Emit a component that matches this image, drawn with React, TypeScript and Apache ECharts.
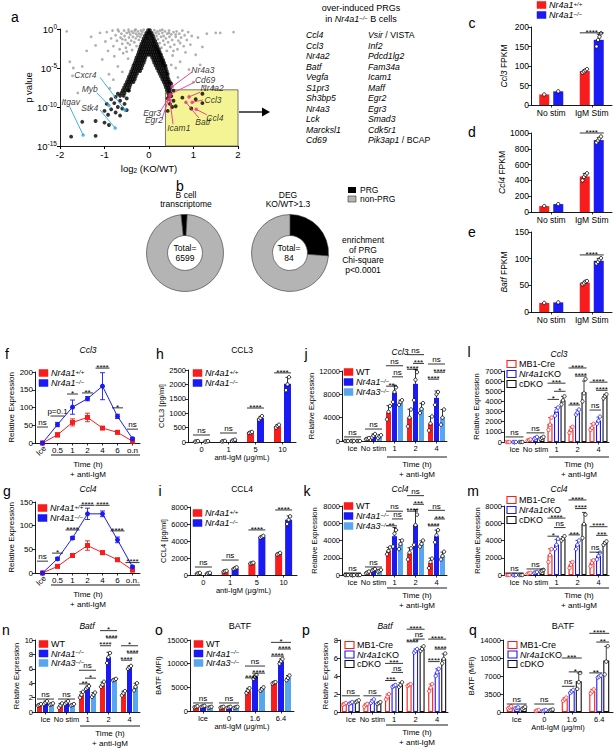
import { useEffect, useRef } from "react";
import * as echarts from "echarts";

const FONT = "Liberation Sans, Arial, sans-serif";
const RED = "#f81c1c";
const BLUE = "#1a1af5";
const LBLUE = "#58a6f0";
const BLACK = "#111111";
const PINK = "#ec2f8c";
const CYAN = "#2aa8e0";

/* ---------------- a : volcano (x = log2 KO/WT, y = log10 p) ---------------- */
const volcanoGrey: number[][] = [
  [-1.85,-0.3],[-1.78,-4.2],[-1.7,-5.0],[-1.72,-6.0],[-1.6,-8.2],[-1.5,-4.8],[-1.3,-1.0],[-1.2,-2.1],[-1.1,-0.5],[-1.05,-3.9],
  [-0.98,-1.6],[-0.95,-0.4],[-0.92,-2.8],[-0.9,-5.8],[-0.88,-7.6],[-0.85,-1.2],[-0.82,-0.2],[-0.8,-2.2],[-0.78,-3.5],[-0.75,-0.8],
  [-0.72,-1.5],[-0.7,-4.8],[-0.68,-0.3],[-0.66,-2.6],[-0.64,-1.1],[-0.62,-0.6],[-0.6,-1.9],[-0.58,-3.1],[-0.56,-0.2],[-0.55,-0.9],
  [-0.53,-1.4],[-0.52,-2.4],[-0.5,-0.5],[-0.48,-1.8],[-0.47,-3.8],[-0.46,-0.1],[-0.45,-1.1],[-0.43,-2.0],[-0.42,-0.7],[-0.4,-1.5],
  [-0.39,-0.3],[-0.38,-2.7],[-0.36,-1.0],[-0.35,-0.5],[-0.33,-1.7],[-0.32,-0.2],[-0.3,-1.2],[-0.29,-0.6],[-0.28,-2.2],[-0.26,-0.9],
  [-0.25,-0.3],[-0.23,-1.4],[-0.22,-0.6],[-0.2,-1.0],[-0.18,-0.2],[-0.17,-0.7],[-0.15,-0.4],[-0.12,-0.1],[0.12,-0.15],[0.15,-0.5],
  [0.17,-0.9],[0.19,-0.3],[0.2,-1.3],[0.22,-0.6],[0.24,-1.8],[0.25,-0.2],[0.27,-1.0],[0.28,-2.4],[0.3,-0.5],[0.32,-1.5],
  [0.33,-0.9],[0.35,-2.0],[0.36,-0.3],[0.38,-1.2],[0.4,-2.8],[0.41,-0.6],[0.43,-1.7],[0.45,-0.2],[0.46,-1.0],[0.48,-2.3],
  [0.5,-0.7],[0.52,-1.4],[0.53,-3.4],[0.55,-0.4],[0.57,-2.0],[0.6,-1.0],[0.62,-0.3],[0.64,-2.6],[0.66,-1.5],[0.68,-0.6],
  [0.7,-4.2],[0.72,-1.1],[0.75,-0.2],[0.78,-2.2],[0.8,-0.8],[0.82,-3.0],[0.85,-1.4],[0.88,-0.4],[0.9,-5.2],[0.93,-2.0],
  [0.96,-0.9],[1.0,-6.8],[1.05,-3.3],[1.1,-1.1],[1.15,-4.6],[1.2,-2.3],[1.25,-7.3],[1.3,-0.6],[1.45,-7.5],[1.5,-0.5],
  [1.6,-0.5],[1.9,-0.4],[0.6,-5.0],[0.65,-6.2],[-0.6,-5.5],[-0.35,-4.5],[0.5,-4.6],[-0.8,-6.5],[-1.4,-2.8],
  [-0.7,-0.1],[-0.6,-1.3],[-0.45,-0.4],[-0.3,-0.05],[0.3,-0.1],[0.45,-0.5],[0.6,-0.7],[0.7,-1.8],[-0.5,-2.9],[0.55,-2.8]
];
/* dense V of black points: [log10 p, log2 FC values along that row] */
const volcanoBlackRows: [number, number[]][] = [
  [-0.15, [-0.02, 0.02]],
  [-0.5, [-0.06, -0.02, 0.02, 0.06]],
  [-0.85, [-0.09, -0.05, 0, 0.05, 0.09]],
  [-1.2, [-0.12, -0.07, -0.03, 0.02, 0.07, 0.11]],
  [-1.55, [-0.14, -0.1, -0.05, 0, 0.05, 0.1, 0.14]],
  [-1.9, [-0.17, -0.12, -0.07, -0.02, 0.03, 0.08, 0.12, 0.17]],
  [-2.25, [-0.19, -0.14, -0.09, -0.04, 0.01, 0.06, 0.11, 0.15, 0.19]],
  [-2.6, [-0.21, -0.16, -0.11, -0.06, -0.01, 0.04, 0.09, 0.14, 0.18, 0.22]],
  [-2.95, [-0.23, -0.18, -0.13, -0.08, -0.03, 0.02, 0.07, 0.12, 0.17, 0.21, 0.24]],
  [-3.3, [-0.25, -0.2, -0.15, -0.1, -0.05, 0, 0.05, 0.1, 0.15, 0.2, 0.24, 0.27]],
  [-3.65, [-0.28, -0.23, -0.18, -0.13, -0.08, 0.07, 0.12, 0.17, 0.22, 0.26, 0.29]],
  [-4.0, [-0.3, -0.25, -0.2, -0.15, -0.1, 0.1, 0.15, 0.2, 0.25, 0.29, 0.32]],
  [-4.35, [-0.32, -0.27, -0.22, -0.17, -0.12, 0.12, 0.17, 0.22, 0.27, 0.31, 0.34]],
  [-4.7, [-0.35, -0.3, -0.25, -0.2, -0.15, 0.15, 0.2, 0.25, 0.3, 0.34, 0.37]],
  [-5.05, [-0.37, -0.32, -0.27, -0.22, -0.17, 0.18, 0.23, 0.28, 0.33, 0.38]],
  [-5.4, [-0.4, -0.35, -0.3, -0.25, -0.2, 0.21, 0.26, 0.31, 0.36, 0.4]],
  [-5.75, [-0.42, -0.37, -0.32, -0.27, 0.24, 0.29, 0.34, 0.39, 0.42]],
  [-6.1, [-0.45, -0.4, -0.35, -0.3, 0.27, 0.32, 0.37, 0.42]],
  [-6.45, [-0.47, -0.42, -0.37, -0.32, 0.3, 0.35, 0.4, 0.44]],
  [-6.8, [-0.5, -0.45, -0.4, -0.35, 0.33, 0.38, 0.43, 0.47]],
  [-7.15, [-0.53, -0.48, -0.42, 0.36, 0.41, 0.46]],
  [-7.5, [-0.56, -0.5, -0.44, 0.38, 0.43, 0.48]],
  [-7.85, [-0.59, -0.53, -0.47, 0.41, 0.46]],
  [-8.2, [-0.62, -0.55, 0.43, 0.48]],
  [-8.55, [-0.65, -0.57, 0.45]],
];
/* scattered black outliers */
const volcanoBlackOut: number[][] = [
  [-0.7,-8.3],[-0.75,-8.7],[-0.5,-8.9],[-0.85,-9.0],[-0.65,-9.2],[-0.78,-9.5],[-0.55,-9.6],[-0.95,-9.6],[-0.7,-10.0],[-0.6,-10.2],
  [-0.85,-10.3],[-0.5,-10.4],[-1.0,-10.5],[-0.75,-10.7],[-0.92,-11.0],[-0.65,-11.1],[-1.2,-11.8],[-1.5,-11.9],[-1.2,-13.7],[-1.75,-13.8],
  [-0.9,-12.3],[-1.0,-12.0],[0.5,-8.6],[0.42,-8.9],[0.55,-9.2],[0.47,-9.6],[0.52,-10.0],[0.6,-9.9],[0.75,-8.8],[1.05,-9.0],
  [1.2,-9.5],[0.95,-10.2],[0.42,-10.5],[1.2,-8.3],[0.55,-7.9],[0.5,-7.0],[-0.45,-7.9]
];
const volcanoPinkGenes = ["Nr4a3", "Cd69", "Nr4a2", "Ccl3", "Ccl4", "Batf", "Icam1", "Egr3", "Egr2"];
const volcanoPinkPts = [[0.52,-7.4],[0.47,-8.4],[0.9,-8.7],[0.97,-9.4],[1.06,-10.3],[0.83,-9.4],[0.47,-9.1],[0.47,-8.6],[0.44,-9.0]];
const volcanoBlueGenes = ["Cxcr4", "Myb", "Stk4", "Itgav"];
const volcanoBluePts = [[-0.54,-10.4],[-0.9,-9.8],[-0.76,-12.7],[-1.48,-13.6]];
const prgBox = [0.37, -7.8, 2, -15];

/* over-induced PRG list */
const prgListCol1 = ["Ccl4", "Ccl3", "Nr4a2", "Batf", "Vegfa", "S1pr3", "Sh3bp5", "Nr4a3", "Lck", "Marcksl1", "Cd69"];
const prgListCol2 = ["{i|Vsir} / VISTA", "Inf2", "Pdcd1lg2", "Fam34a", "Icam1", "Maff", "Egr2", "Egr3", "Smad3", "Cdk5r1", "{i|Pik3ap1} / BCAP"];

/* ---------------- b : donuts ---------------- */
const bcellPRG = 170;
const bcellNonPRG = 6429;
const degPRG = 22;
const degNonPRG = 62;

/* ---------------- c, d, e : FPKM ---------------- */
const fpkmCats = ["No stim", "IgM Stim"];
const ccl3FpkmWT = [27, 87];
const ccl3FpkmKO = [35, 167];
const ccl3FpkmWTReps = [[27], [83, 86, 89, 92]];
const ccl3FpkmKOReps = [[35], [150, 167, 175, 184]];
const ccl4FpkmWT = [75, 450];
const ccl4FpkmKO = [100, 910];
const ccl4FpkmWTReps = [[75], [400, 445, 470, 490]];
const ccl4FpkmKOReps = [[100], [880, 905, 930, 955]];
const batfFpkmWT = [17, 55];
const batfFpkmKO = [18, 96];
const batfFpkmWTReps = [[17], [52, 54, 57, 58]];
const batfFpkmKOReps = [[18], [91, 94, 98, 101]];

/* ---------------- f, g : time course ---------------- */
const timeCatsF = ["Ice", "0.5", "1", "2", "4", "6", "o.n"];
const timeCatsG = ["Ice", "0.5", "1", "2", "4", "6", "o.n."];
const ccl3TimeWT = [0, 23, 58, 72, 42, 30, 5];
const ccl3TimeWTErr = [0, 6, 10, 12, 4, 4, 2];
const ccl3TimeKO = [0, 52, 101, 125, 160, 75, 12];
const ccl3TimeKOErr = [0, 6, 20, 6, 38, 6, 3];
const ccl4TimeWT = [0, 14, 37, 58, 43, 28, 6];
const ccl4TimeWTErr = [0, 2, 3, 10, 4, 3, 2];
const ccl4TimeKO = [0, 30, 74, 125, 125, 70, 13];
const ccl4TimeKOErr = [0, 3, 3, 12, 6, 6, 2];

/* ---------------- h, i : protein ---------------- */
const doseCats = ["0", "1", "5", "10"];
const ccl3ProtWT = [20, 30, 330, 550];
const ccl3ProtKO = [20, 60, 830, 2020];
const ccl3ProtWTReps = [[10, 20, 30], [20, 30, 40], [310, 330, 350], [500, 560, 600]];
const ccl3ProtKOReps = [[10, 20, 30], [40, 60, 80], [780, 830, 900], [1800, 2000, 2250]];
const ccl4ProtWT = [200, 450, 1400, 2500];
const ccl4ProtKO = [200, 800, 4500, 6500];
const ccl4ProtWTReps = [[150, 200, 250], [400, 450, 500], [1350, 1400, 1450], [2400, 2500, 2600]];
const ccl4ProtKOReps = [[150, 220, 260], [700, 800, 900], [4400, 4500, 4600], [6000, 6500, 6900]];

/* ---------------- j, k, n : WT / Nr4a1-/- / Nr4a3-/- ---------------- */
const stimCats = ["Ice", "No stim", "1", "2", "4"];
const ccl3WT = [50, 400, 4900, 4000, 3000];
const ccl3Nr4a1 = [50, 900, 8300, 9800, 7400];
const ccl3Nr4a3 = [50, 800, 6600, 5600, 4100];
const ccl3WTReps = [[0, 0, 0], [300, 400, 500], [3700, 5000, 6000], [2500, 4000, 5400], [1800, 3000, 4200]];
const ccl3Nr4a1Reps = [[0, 0, 0], [600, 900, 1200], [6700, 8400, 9200], [7000, 10500, 11800], [6200, 8000, 8400]];
const ccl3Nr4a3Reps = [[0, 0, 0], [500, 800, 1000], [6200, 6700, 7000], [4800, 5500, 6500], [2800, 4000, 5400]];
const ccl4WT = [50, 300, 2800, 2500, 1400];
const ccl4Nr4a1 = [50, 600, 4500, 5800, 4500];
const ccl4Nr4a3 = [50, 500, 3600, 3600, 2200];
const ccl4WTReps = [[0, 0, 0], [200, 300, 400], [2400, 2800, 3200], [1800, 2600, 3100], [800, 1500, 1900]];
const ccl4Nr4a1Reps = [[0, 0, 0], [500, 600, 700], [3300, 4800, 5200], [3500, 5800, 7000], [3800, 4600, 5200]];
const ccl4Nr4a3Reps = [[0, 0, 0], [400, 500, 600], [3000, 3600, 4000], [3300, 3600, 4000], [1800, 2200, 2700]];
const batfWT = [1.0, 0.9, 2.4, 3.8, 2.6];
const batfNr4a1 = [1.3, 1.3, 3.4, 7.6, 6.2];
const batfNr4a3 = [1.1, 1.0, 2.4, 4.5, 3.5];
const batfWTReps = [[0.9, 1.0, 1.1], [0.6, 0.9, 1.2], [2.0, 2.4, 2.8], [3.5, 3.8, 4.2], [2.3, 2.6, 2.9]];
const batfNr4a1Reps = [[1.1, 1.3, 1.5], [1.1, 1.3, 1.5], [3.2, 3.4, 3.6], [6.8, 7.6, 8.2], [6.0, 6.2, 6.4]];
const batfNr4a3Reps = [[1.0, 1.1, 1.2], [0.9, 1.0, 1.1], [2.1, 2.4, 2.7], [4.4, 4.5, 4.6], [3.0, 3.5, 4.0]];

/* ---------------- o : BATF protein, WT / Nr4a1 / Nr4a3 ---------------- */
const batfDoseCats = ["Ice", "0", "1.6", "6.4"];
const batfMfiWT = [900, 800, 4300, 6000];
const batfMfiNr4a1 = [1000, 800, 7200, 10500];
const batfMfiNr4a3 = [800, 800, 4600, 7000];
const batfMfiWTReps = [[800, 900, 1000], [700, 800, 900], [3800, 4300, 4800], [5800, 6000, 6100]];
const batfMfiNr4a1Reps = [[900, 1000, 1100], [700, 800, 900], [6800, 7200, 7600], [10000, 10500, 11000]];
const batfMfiNr4a3Reps = [[700, 800, 900], [700, 800, 900], [4300, 4600, 5000], [6500, 7000, 7500]];

/* ---------------- l, m, p, q : MB1-Cre / Nr4a1cKO / cDKO ---------------- */
const ccl3Mb1 = [50, 200, 1800, 1200, 1500];
const ccl3CKO = [50, 400, 3000, 2900, 2100];
const ccl3DKO = [50, 400, 4100, 4900, 4500];
const ccl3Mb1Reps = [[0, 0, 0], [150, 200, 250], [1200, 1700, 2400], [900, 1200, 1500], [1200, 1400, 1800]];
const ccl3CKOReps = [[0, 0, 0], [300, 400, 500], [2600, 3100, 3400], [2700, 2900, 3200], [1800, 2100, 2500]];
const ccl3DKOReps = [[0, 0, 0], [300, 400, 500], [3700, 4100, 4500], [4000, 4800, 6200], [4300, 4500, 4700]];
const ccl4Mb1 = [50, 200, 2300, 1200, 1400];
const ccl4CKO = [50, 300, 3500, 3500, 2200];
const ccl4DKO = [50, 500, 4200, 5900, 3700];
const ccl4Mb1Reps = [[0, 0, 0], [150, 200, 250], [1500, 2300, 3000], [800, 1200, 1500], [1000, 1400, 1700]];
const ccl4CKOReps = [[0, 0, 0], [250, 300, 350], [3000, 3500, 4200], [3000, 3500, 4000], [1800, 2200, 2600]];
const ccl4DKOReps = [[0, 0, 0], [400, 500, 600], [4000, 4200, 4500], [4300, 5900, 7000], [3500, 3700, 3900]];
const batfMb1 = [0.9, 0.8, 1.7, 3.0, 2.7];
const batfCKO = [1.0, 1.2, 2.9, 6.8, 4.4];
const batfDKO = [1.2, 1.0, 3.0, 7.0, 5.9];
const batfMb1Reps = [[0.8, 0.9, 1.0], [0.6, 0.8, 0.9], [1.4, 1.7, 2.0], [2.9, 3.0, 3.1], [2.3, 2.7, 3.1]];
const batfCKOReps = [[0.9, 1.0, 1.1], [1.0, 1.2, 1.4], [2.8, 2.9, 3.0], [6.6, 6.8, 7.0], [4.0, 4.4, 4.8]];
const batfDKOReps = [[1.1, 1.2, 1.3], [0.9, 1.0, 1.1], [2.8, 3.0, 3.3], [6.8, 7.0, 7.3], [5.4, 5.9, 6.5]];
const batfMfiMb1 = [900, 300, 2500, 4000];
const batfMfiCKO = [800, 300, 4000, 6900];
const batfMfiDKO = [800, 400, 6000, 10000];
const batfMfiMb1Reps = [[700, 900, 1100], [200, 300, 400], [2200, 2500, 2800], [3600, 4000, 4400]];
const batfMfiCKOReps = [[700, 800, 900], [200, 300, 400], [3700, 4000, 4300], [6700, 6900, 7100]];
const batfMfiDKOReps = [[600, 800, 1000], [300, 400, 500], [4500, 5800, 7600], [7300, 9800, 12800]];

/* significance: [catA, groupA, catB, groupB, y, label] */
type Br = [number, number, number, number, number, string];
const sigC: Br[] = [[1, 0, 1, 1, 185, "****"]];
const sigD: Br[] = [[1, 0, 1, 1, 1000, "****"]];
const sigE: Br[] = [[1, 0, 1, 1, 107, "****"]];
const sigH: Br[] = [[0, 0, 0, 1, 243, "ns"], [1, 0, 1, 1, 312, "ns"], [2, 0, 2, 1, 1180, "****"], [3, 0, 3, 1, 2400, "****"]];
const sigI: Br[] = [[0, 0, 0, 1, 940, "ns"], [1, 0, 1, 1, 1760, "ns"], [2, 0, 2, 1, 5300, "****"], [3, 0, 3, 1, 7650, "****"]];
const sigJ: Br[] = [[0, 0, 0, 2, 700, "ns"], [1, 0, 1, 2, 2050, "ns"], [2, 0, 2, 1, 9400, "**"], [2, 1, 2, 2, 11000, "ns"], [2, 0, 2, 2, 12900, "ns"],
  [3, 0, 3, 1, 12300, "****"], [3, 1, 3, 2, 13300, "***"], [3, 0, 3, 2, 14800, "ns"], [4, 0, 4, 1, 10600, "****"], [4, 1, 4, 2, 11800, "****"], [4, 0, 4, 2, 13200, "ns"]];
const sigK: Br[] = [[0, 0, 0, 2, 230, "ns"], [1, 0, 1, 2, 930, "ns"], [2, 0, 2, 1, 5700, "**"], [2, 1, 2, 2, 6500, "ns"], [2, 0, 2, 2, 7400, "ns"],
  [3, 0, 3, 1, 7400, "****"], [3, 1, 3, 2, 8200, "***"], [3, 0, 3, 2, 9200, "ns"], [4, 0, 4, 1, 5700, "****"], [4, 1, 4, 2, 6500, "***"], [4, 0, 4, 2, 7500, "ns"]];
const sigL: Br[] = [[0, 0, 0, 2, 500, "ns"], [1, 0, 1, 2, 900, "ns"], [2, 0, 2, 1, 4200, "*"], [2, 1, 2, 2, 5000, "*"], [2, 0, 2, 2, 5800, "***"],
  [3, 0, 3, 1, 3650, "***"], [3, 1, 3, 2, 6500, "****"], [3, 0, 3, 2, 7300, "****"], [4, 0, 4, 1, 3150, "ns"], [4, 1, 4, 2, 5100, "****"], [4, 0, 4, 2, 5900, "****"]];
const sigM: Br[] = [[0, 0, 0, 2, 230, "ns"], [1, 0, 1, 2, 700, "ns"], [2, 0, 2, 1, 4500, "*"], [2, 1, 2, 2, 5500, "ns"], [2, 0, 2, 2, 6600, "****"],
  [3, 0, 3, 1, 4650, "***"], [3, 1, 3, 2, 7700, "****"], [3, 0, 3, 2, 8700, "****"], [4, 0, 4, 1, 2650, "ns"], [4, 1, 4, 2, 4600, "***"], [4, 0, 4, 2, 5600, "****"]];
const sigN: Br[] = [[0, 0, 0, 2, 1.8, "ns"], [1, 0, 1, 2, 1.8, "ns"], [2, 0, 2, 1, 3.9, "**"], [2, 1, 2, 2, 4.7, "*"], [2, 0, 2, 2, 5.8, "ns"],
  [3, 0, 3, 1, 9.2, "****"], [3, 1, 3, 2, 10.3, "****"], [3, 0, 3, 2, 11.3, "*"], [4, 0, 4, 1, 7.2, "****"], [4, 1, 4, 2, 8.2, "****"], [4, 0, 4, 2, 9.2, "*"]];
const sigO: Br[] = [[0, 0, 0, 2, 1700, "ns"], [1, 0, 1, 2, 1700, "ns"], [2, 0, 2, 1, 7000, "****"], [2, 1, 2, 2, 8000, "****"], [2, 0, 2, 2, 9500, "ns"],
  [3, 0, 3, 1, 11600, "****"], [3, 1, 3, 2, 13100, "****"], [3, 0, 3, 2, 14500, "*"]];
const sigP: Br[] = [[0, 0, 0, 2, 1.8, "ns"], [1, 0, 1, 2, 1.8, "ns"], [2, 0, 2, 1, 3.5, "***"], [2, 1, 2, 2, 4.4, "ns"], [2, 0, 2, 2, 5.4, "***"],
  [3, 0, 3, 1, 7.8, "****"], [3, 1, 3, 2, 8.1, "ns"], [3, 0, 3, 2, 9.2, "****"], [4, 0, 4, 1, 5.6, "****"], [4, 1, 4, 2, 7.0, "****"], [4, 0, 4, 2, 8.1, "****"]];
const sigQ: Br[] = [[0, 0, 0, 2, 1550, "ns"], [1, 0, 1, 2, 1550, "ns"], [2, 0, 2, 1, 5000, "ns"], [2, 1, 2, 2, 7800, "*"], [2, 0, 2, 2, 10500, "***"],
  [3, 0, 3, 1, 7600, "**"], [3, 1, 3, 2, 13600, "**"], [3, 0, 3, 2, 15300, "****"]];
/* time-course notes: [cat, y, label] */
const sigF: [number, number, string][] = [[0, 45, "ns"], [1, 76, "p=0.1"], [2, 138, "*"], [3, 141, "**"], [4, 211, "****"], [5, 99, "*"], [6, 39, "ns"]];
const sigG: [number, number, string][] = [[0, 25, "ns"], [1, 42, "*"], [2, 91, "****"], [3, 143, "****"], [4, 143, "****"], [5, 89, "****"], [6, 22, "****"]];

/* ---------------------------------------------------------------- */
const RICH: any = {
  i: { fontStyle: "italic", fontSize: 9, fontFamily: FONT, color: "#000" },
  s: { fontStyle: "italic", fontSize: 6, fontFamily: FONT, color: "#000", verticalAlign: "top", lineHeight: 8 },
  n: { fontSize: 9, fontFamily: FONT, color: "#000" },
};
function sd(a: number[]) {
  if (a.length < 2) return 0;
  const m = a.reduce((s, v) => s + v, 0) / a.length;
  return Math.sqrt(a.reduce((s, v) => s + (v - m) * (v - m), 0) / (a.length - 1));
}

function buildOption() {
  const grid: any[] = [], xAxis: any[] = [], yAxis: any[] = [], series: any[] = [], graphic: any[] = [];
  const addGrid = (r: number[]) => { grid.push({ left: r[0], top: r[1], width: r[2], height: r[3] }); return grid.length - 1; };
  const AXL = { show: true, lineStyle: { color: "#000", width: 0.9 } };

  const txt = (x: number, y: number, text: string, o: any = {}) => {
    graphic.push({
      type: "text", x, y, rotation: o.rot || 0, silent: true, z: 100,
      style: {
        text, fill: "#000", font: `${o.italic ? "italic " : ""}${o.size || 9}px ${FONT}`,
        textAlign: o.align || "center", textVerticalAlign: o.va || "middle", align: o.align || "center", verticalAlign: o.va || "middle",
        rich: o.rich,
      },
    });
  };
  const line = (x1: number, y1: number, x2: number, y2: number, w = 0.9, c = "#000") =>
    graphic.push({ type: "line", silent: true, shape: { x1, y1, x2, y2 }, style: { stroke: c, lineWidth: w } });
  const legend = (x: number, y: number, items: { label: string; color: string; hollow?: boolean }[], tx = 12, dy = 10) => {
    items.forEach((it, i) => {
      const cy = y + i * dy;
      graphic.push({ type: "rect", silent: true, shape: { x, y: cy - 3.5, width: 9, height: 7 },
        style: { fill: it.hollow ? "#fff" : it.color, stroke: it.color, lineWidth: it.hollow ? 1.1 : 0.5 } });
      txt(x + tx, cy, it.label, { align: "left", rich: RICH });
    });
  };
  const letter = (x: number, y: number, l: string) => txt(x, y, l, { size: 14 });

  const catAxis = (gi: number, cats: string[], fs: number, o: any = {}) => ({
    type: "category", gridIndex: gi, data: cats, boundaryGap: true,
    axisLine: AXL,
    axisTick: { show: o.ticks !== false, alignWithLabel: true, length: 2.5, lineStyle: { color: "#000", width: 0.8 } },
    axisLabel: { color: "#000", fontSize: fs, fontFamily: FONT, margin: o.margin ?? 3, interval: 0 },
    splitLine: { show: false },
    name: o.name, nameLocation: "middle", nameGap: o.nameGap ?? 12,
    nameTextStyle: { color: "#000", fontSize: fs, fontFamily: FONT },
  });
  const valY = (gi: number, max: number, step: number, fs: number, name: string, gap: number) => ({
    type: "value", gridIndex: gi, min: 0, max, interval: step,
    axisLine: AXL, axisTick: { show: true, length: 3, lineStyle: { color: "#000", width: 0.8 } },
    axisLabel: { color: "#000", fontSize: fs, fontFamily: FONT, margin: 2, formatter: (v: number) => String(v) },
    splitLine: { show: false },
    name, nameLocation: "middle", nameGap: gap, nameRotate: 90,
    nameTextStyle: { color: "#000", fontSize: fs, fontFamily: FONT,
      rich: { i: { fontStyle: "italic", fontSize: fs, fontFamily: FONT, color: "#000" } } },
  });

  type Group = { color: string; hollow?: boolean; means: number[]; reps: number[][] };
  const barPanel = (cfg: {
    rect: number[]; cats: string[]; max: number; step: number; fs: number; yName: string; yGap: number;
    xName?: string; xGap?: number; groups: Group[]; barW: number; pitch: number; sig: Br[];
  }) => {
    const gi = addGrid(cfg.rect);
    xAxis.push(catAxis(gi, cfg.cats, cfg.fs, { name: cfg.xName, nameGap: cfg.xGap }));
    yAxis.push(valY(gi, cfg.max, cfg.step, cfg.fs, cfg.yName, cfg.yGap));
    const k = cfg.groups.length;
    const off = (j: number) => (j - (k - 1) / 2) * cfg.pitch;
    cfg.groups.forEach((g) => {
      series.push({
        type: "bar", xAxisIndex: gi, yAxisIndex: gi, data: g.means, barWidth: cfg.barW,
        barGap: ((cfg.pitch - cfg.barW) / cfg.barW) * 100 + "%", silent: true, z: 2,
        itemStyle: g.hollow ? { color: "#fff", borderColor: g.color, borderWidth: 1.1 } : { color: g.color },
      });
    });
    const errData: number[][] = [];
    const dotData: number[][] = [];
    cfg.groups.forEach((g, j) => {
      g.means.forEach((m, c) => errData.push([c, j, m, sd(g.reps[c])]));
      g.reps.forEach((r, c) => r.forEach((v, ri) => dotData.push([c, j, v, ri, r.length])));
    });
    series.push({
      type: "custom", xAxisIndex: gi, yAxisIndex: gi, data: errData, clip: false, silent: true, z: 3,
      renderItem: (_p: any, api: any) => {
        const c = api.value(0), j = api.value(1), m = api.value(2), e = api.value(3);
        if (!(e > 0)) return null;
        const g = cfg.groups[j];
        const col = g.hollow ? g.color : "#000";
        const a = api.coord([c, m]), b = api.coord([c, m + e]);
        const x = a[0] + off(j);
        return { type: "group", children: [
          { type: "line", shape: { x1: x, y1: a[1], x2: x, y2: b[1] }, style: { stroke: col, lineWidth: 0.8 } },
          { type: "line", shape: { x1: x - 2, y1: b[1], x2: x + 2, y2: b[1] }, style: { stroke: col, lineWidth: 0.8 } },
        ] };
      },
    });
    series.push({
      type: "custom", xAxisIndex: gi, yAxisIndex: gi, data: dotData, clip: false, silent: true, z: 4,
      renderItem: (_p: any, api: any) => {
        const c = api.value(0), j = api.value(1), v = api.value(2), ri = api.value(3), n = api.value(4);
        const g = cfg.groups[j];
        const p = api.coord([c, v]);
        const x = p[0] + off(j) + (ri - (n - 1) / 2) * 1.5;
        return { type: "circle", shape: { cx: x, cy: p[1], r: 1.7 },
          style: { fill: "#fff", stroke: g.hollow ? g.color : "#000", lineWidth: 0.8 } };
      },
    });
    series.push({
      type: "custom", xAxisIndex: gi, yAxisIndex: gi, data: cfg.sig.map((b) => [b[0], b[4]]), clip: false, silent: true, z: 5,
      renderItem: (p: any, api: any) => {
        const b = cfg.sig[p.dataIndex];
        const pa = api.coord([b[0], b[4]]), pb = api.coord([b[2], b[4]]);
        const x1 = pa[0] + off(b[1]) - cfg.barW / 2, x2 = pb[0] + off(b[3]) + cfg.barW / 2;
        const y = pa[1];
        const star = b[5].indexOf("*") >= 0;
        return { type: "group", children: [
          { type: "line", shape: { x1, y1: y, x2, y2: y }, style: { stroke: "#000", lineWidth: 0.8 } },
          { type: "text", x: (x1 + x2) / 2, y: star ? y + 3.2 : y - 0.3,
            style: { text: b[5], fill: "#000", font: `8px ${FONT}`, textAlign: "center", textVerticalAlign: "bottom", align: "center", verticalAlign: "bottom" } },
        ] };
      },
    });
    return gi;
  };

  const linePanel = (rect: number[], cats: string[], max: number, step: number,
    wt: number[], wtE: number[], ko: number[], koE: number[], notes: [number, number, string][]) => {
    const gi = addGrid(rect);
    xAxis.push(catAxis(gi, cats.map((c, i) => (i === 0 ? "" : c)), 8, { margin: 3 }));
    yAxis.push(valY(gi, max, step, 8, "Relative Expression", 19));
    const errData: number[][] = [];
    wt.forEach((m, c) => errData.push([c, m, wtE[c], 0]));
    ko.forEach((m, c) => errData.push([c, m, koE[c], 1]));
    series.push({ type: "custom", xAxisIndex: gi, yAxisIndex: gi, data: errData, clip: false, silent: true, z: 2,
      renderItem: (_p: any, api: any) => {
        const c = api.value(0), m = api.value(1), e = api.value(2), w = api.value(3);
        if (!(e > 0)) return null;
        const col = w ? BLUE : RED;
        const a = api.coord([c, m - e]), b = api.coord([c, m + e]);
        const x = a[0];
        return { type: "group", children: [
          { type: "line", shape: { x1: x, y1: a[1], x2: x, y2: b[1] }, style: { stroke: col, lineWidth: 0.9 } },
          { type: "line", shape: { x1: x - 2.5, y1: b[1], x2: x + 2.5, y2: b[1] }, style: { stroke: col, lineWidth: 0.9 } },
          { type: "line", shape: { x1: x - 2.5, y1: a[1], x2: x + 2.5, y2: a[1] }, style: { stroke: col, lineWidth: 0.9 } },
        ] };
      } });
    series.push({ type: "line", xAxisIndex: gi, yAxisIndex: gi, data: wt, symbol: "rect", symbolSize: 5, z: 3,
      itemStyle: { color: RED }, lineStyle: { color: RED, width: 1 }, silent: true });
    series.push({ type: "line", xAxisIndex: gi, yAxisIndex: gi, data: ko, symbol: "circle", symbolSize: 5, z: 3,
      itemStyle: { color: BLUE }, lineStyle: { color: BLUE, width: 1 }, silent: true });
    series.push({ type: "custom", xAxisIndex: gi, yAxisIndex: gi, data: notes.map((n) => [n[0], n[1]]), clip: false, silent: true, z: 5,
      renderItem: (p: any, api: any) => {
        const n = notes[p.dataIndex];
        const a = api.coord([n[0], n[1]]);
        const hw = n[2].length > 3 ? 7 : 5.5;
        const star = n[2].indexOf("*") >= 0;
        return { type: "group", children: [
          { type: "line", shape: { x1: a[0] - hw, y1: a[1], x2: a[0] + hw, y2: a[1] }, style: { stroke: "#000", lineWidth: 0.8 } },
          { type: "text", x: a[0], y: star ? a[1] + 3.2 : a[1] - 0.3,
            style: { text: n[2], fill: "#000", font: `8px ${FONT}`, textAlign: "center", textVerticalAlign: "bottom", align: "center", verticalAlign: "bottom" } },
        ] };
      } });
    return gi;
  };

  /* ======== a : volcano ======== */
  const ga = addGrid([60, 29, 178, 117]);
  xAxis.push({
    type: "value", gridIndex: ga, min: -2, max: 2, interval: 1, axisLine: { ...AXL, onZero: false },
    axisTick: { show: true, length: 3, lineStyle: { color: "#000" } },
    axisLabel: { color: "#000", fontSize: 9.5, fontFamily: FONT, margin: 3 }, splitLine: { show: false },
    name: "log{sub|2} (KO/WT)", nameLocation: "middle", nameGap: 16,
    nameTextStyle: { color: "#000", fontSize: 9.5, fontFamily: FONT, rich: { sub: { fontSize: 6.5, fontFamily: FONT, color: "#000", padding: [5, 0, 0, 0] } } },
  });
  yAxis.push({
    type: "value", gridIndex: ga, min: -15, max: 0, interval: 5, axisLine: { ...AXL, onZero: false },
    axisTick: { show: true, length: 3, lineStyle: { color: "#000" } },
    axisLabel: { color: "#000", fontSize: 9.5, fontFamily: FONT, margin: 3,
      formatter: (v: number) => "10{s|" + v + "}",
      rich: { s: { fontSize: 6.5, fontFamily: FONT, color: "#000", padding: [0, 0, 6, 0] } } },
    splitLine: { show: false },
    name: "p value", nameLocation: "middle", nameGap: 27, nameRotate: 90,
    nameTextStyle: { color: "#000", fontSize: 9.5, fontFamily: FONT },
  });
  const volcanoBlack: number[][] = [];
  volcanoBlackRows.forEach(([y, xs]) => xs.forEach((x) => volcanoBlack.push([x, y])));
  volcanoBlackOut.forEach((p) => volcanoBlack.push(p));
  series.push({
    type: "scatter", xAxisIndex: ga, yAxisIndex: ga, data: volcanoGrey, symbolSize: 2.8, silent: true, z: 2,
    itemStyle: { color: "#9c9c9c" },
    markArea: { silent: true, itemStyle: { color: "#f4f495", borderColor: "#555", borderWidth: 0.8 },
      data: [[{ coord: [prgBox[0], prgBox[1]] }, { coord: [prgBox[2], prgBox[3]] }]] },
  });
  series.push({ type: "scatter", xAxisIndex: ga, yAxisIndex: ga, data: volcanoBlack, symbolSize: 3.9, silent: true, z: 3, itemStyle: { color: "#000" } });
  const pinkLabelAt = [[1.21, -5.3], [1.26, -6.5], [1.42, -7.6], [1.44, -9.1], [1.48, -11.4], [1.21, -11.9], [0.67, -12.7], [0.07, -10.8], [0.11, -11.7]];
  const pinkLineFrom = [[0.97, -5.5], [1.03, -6.8], [1.15, -8.1], [1.21, -9.1], [1.3, -11.0], [1.12, -11.4], [0.54, -12.2], [0.25, -10.6], [0.3, -11.4]];
  const blueLabelAt = [[-1.43, -5.9], [-1.33, -7.7], [-1.33, -10.1], [-1.76, -9.4]];
  const blueLineFrom = [[-1.1, -6.2], [-1.17, -8.2], [-1.1, -10.4], [-1.78, -10.0]];
  volcanoPinkPts.forEach((pt, i) => series.push({ type: "line", xAxisIndex: ga, yAxisIndex: ga, data: [pinkLineFrom[i], pt],
    symbol: "none", silent: true, z: 4, lineStyle: { color: PINK, width: 0.9 } }));
  volcanoBluePts.forEach((pt, i) => series.push({ type: "line", xAxisIndex: ga, yAxisIndex: ga, data: [blueLineFrom[i], pt],
    symbol: "none", silent: true, z: 4, lineStyle: { color: CYAN, width: 0.9 } }));
  series.push({ type: "scatter", xAxisIndex: ga, yAxisIndex: ga, data: volcanoPinkPts, symbolSize: 3.5, silent: true, z: 5, itemStyle: { color: PINK } });
  series.push({ type: "scatter", xAxisIndex: ga, yAxisIndex: ga, data: volcanoBluePts, symbolSize: 3.5, silent: true, z: 5, itemStyle: { color: CYAN } });
  series.push({
    type: "scatter", xAxisIndex: ga, yAxisIndex: ga, symbolSize: 0, silent: true, z: 6,
    data: [...volcanoPinkGenes.map((g, i) => ({ value: pinkLabelAt[i], name: g })), ...volcanoBlueGenes.map((g, i) => ({ value: blueLabelAt[i], name: g }))],
    label: { show: true, position: "inside", formatter: (p: any) => p.name, color: "#000", fontSize: 8.5, fontStyle: "italic", fontFamily: FONT },
  });
  letter(15, 17, "a");
  line(239, 112, 263, 112, 1.3);
  graphic.push({ type: "polygon", silent: true, shape: { points: [[262, 107.5], [270, 112], [262, 116.5]] }, style: { fill: "#000" } });
  txt(361, 8, "over-induced PRGs", { size: 9 });
  txt(361, 19, "{n|in }{i|Nr4a1}{s|−/−}{n| B cells}", { rich: RICH });
  prgListCol1.forEach((g, i) => txt(306, 35 + i * 10.5, g, { italic: true, align: "left", size: 8.7 }));
  prgListCol2.forEach((g, i) => txt(368, 35 + i * 10.5, g.indexOf("{") >= 0 ? g : "{i|" + g + "}", { align: "left", size: 8.7,
    rich: { i: { fontStyle: "italic", fontSize: 8.7, fontFamily: FONT, color: "#000" } } }));

  /* ======== b : donuts ======== */
  const donut = (cx: number, prg: number, non: number, start: number) => series.push({
    type: "pie", center: [cx, 253], radius: [17.5, 38.5], startAngle: start, clockwise: true, silent: true,
    label: { show: false }, labelLine: { show: false },
    itemStyle: { borderColor: "#333", borderWidth: 0.6 },
    data: [{ value: prg, name: "PRG", itemStyle: { color: "#000" } }, { value: non, name: "non-PRG", itemStyle: { color: "#b4b4b4" } }],
  });
  donut(185, bcellPRG, bcellNonPRG, 96);
  donut(290, degPRG, degNonPRG, 90);
  letter(180, 186, "b");
  txt(186, 195, "B cell", { size: 8.5 });
  txt(186, 204, "transcriptome", { size: 8.5 });
  txt(288, 195, "DEG", { size: 8.5 });
  txt(288, 204, "KO/WT>1.3", { size: 8.5 });
  txt(185, 248, "Total=", { size: 8.5 });
  txt(185, 258, String(bcellPRG + bcellNonPRG), { size: 8.5 });
  txt(289, 248, "Total=", { size: 8.5 });
  txt(289, 258, String(degPRG + degNonPRG), { size: 8.5 });
  graphic.push({ type: "rect", silent: true, shape: { x: 348, y: 187, width: 8, height: 6 }, style: { fill: "#000" } });
  graphic.push({ type: "rect", silent: true, shape: { x: 348, y: 196, width: 8, height: 6 }, style: { fill: "#b4b4b4", stroke: "#333", lineWidth: 0.6 } });
  txt(360, 190, "PRG", { align: "left", size: 8.5 });
  txt(360, 199, "non-PRG", { align: "left", size: 8.5 });
  ["enrichment", "of PRG", "Chi-square", "p<0.0001"].forEach((s, i) => txt(363, 240 + i * 10, s, { size: 8.5 }));

  /* ======== c, d, e ======== */
  const wtko = (wt: number[], ko: number[], wr: number[][], kr: number[][]): Group[] =>
    [{ color: RED, means: wt, reps: wr }, { color: BLUE, means: ko, reps: kr }];
  barPanel({ rect: [531, 27, 81, 78], cats: fpkmCats, max: 200, step: 50, fs: 8.5, yName: "{i|Ccl3} FPKM", yGap: 23,
    groups: wtko(ccl3FpkmWT, ccl3FpkmKO, ccl3FpkmWTReps, ccl3FpkmKOReps), barW: 10, pitch: 14, sig: sigC });
  barPanel({ rect: [531, 133, 81, 79], cats: fpkmCats, max: 1000, step: 200, fs: 8.5, yName: "{i|Ccl4} FPKM", yGap: 22,
    groups: wtko(ccl4FpkmWT, ccl4FpkmKO, ccl4FpkmWTReps, ccl4FpkmKOReps), barW: 10, pitch: 14, sig: sigD });
  barPanel({ rect: [531, 232, 81, 80], cats: fpkmCats, max: 150, step: 50, fs: 8.5, yName: "{i|Batf} FPKM", yGap: 23,
    groups: wtko(batfFpkmWT, batfFpkmKO, batfFpkmWTReps, batfFpkmKOReps), barW: 10, pitch: 14, sig: sigE });
  legend(537, 5, [{ label: "{i|Nr4a1}{s|+/+}", color: RED }, { label: "{i|Nr4a1}{s|−/−}", color: BLUE }], 12, 10);
  letter(472, 23, "c");
  letter(472, 132, "d");
  letter(472, 232, "e");

  /* ======== f, g ======== */
  linePanel([35, 372, 105, 71], timeCatsF, 200, 50, ccl3TimeWT, ccl3TimeWTErr, ccl3TimeKO, ccl3TimeKOErr, sigF);
  linePanel([35, 502, 105, 71], timeCatsG, 150, 50, ccl4TimeWT, ccl4TimeWTErr, ccl4TimeKO, ccl4TimeKOErr, sigG);
  letter(7, 354, "f");
  letter(7, 491, "g");
  txt(88, 350, "Ccl3", { italic: true, size: 8.5 });
  txt(88, 489, "Ccl4", { italic: true, size: 8.5 });
  legend(39, 373, [{ label: "{i|Nr4a1}{s|+/+}", color: RED }, { label: "{i|Nr4a1}{s|−/−}", color: BLUE }], 12, 10);
  legend(38, 508, [{ label: "{i|Nr4a1}{s|+/+}", color: RED }, { label: "{i|Nr4a1}{s|−/−}", color: BLUE }], 12, 10);
  txt(45, 447, "Ice", { rot: Math.PI / 4, align: "right", size: 8 });
  txt(45, 577, "Ice", { rot: Math.PI / 4, align: "right", size: 8 });
  line(51, 455, 140, 455, 0.9);
  line(51, 585, 140, 585, 0.9);
  txt(88, 464, "Time (h)", { size: 8 });
  txt(88, 474, "+ anti-IgM", { size: 8 });
  txt(88, 594, "Time (h)", { size: 8 });
  txt(88, 604, "+ anti-IgM", { size: 8 });

  /* ======== h, i ======== */
  barPanel({ rect: [188, 370, 108, 72], cats: doseCats, max: 2500, step: 500, fs: 7.5, yName: "CCL3 [pg/ml]", yGap: 21,
    xName: "anti-IgM (μg/mL)", xGap: 11, groups: wtko(ccl3ProtWT, ccl3ProtKO, ccl3ProtWTReps, ccl3ProtKOReps), barW: 7, pitch: 10, sig: sigH });
  barPanel({ rect: [190, 507, 107, 68], cats: doseCats, max: 8000, step: 2000, fs: 7.5, yName: "CCL4 [pg/ml]", yGap: 21,
    xName: "anti-IgM (μg/mL)", xGap: 11, groups: wtko(ccl4ProtWT, ccl4ProtKO, ccl4ProtWTReps, ccl4ProtKOReps), barW: 7, pitch: 10, sig: sigI });
  letter(160, 354, "h");
  letter(160, 491, "i");
  txt(242, 350, "CCL3", { size: 8.5 });
  txt(242, 489, "CCL4", { size: 8.5 });
  legend(193, 373, [{ label: "{i|Nr4a1}{s|+/+}", color: RED }, { label: "{i|Nr4a1}{s|−/−}", color: BLUE }], 12, 10);
  legend(193, 513, [{ label: "{i|Nr4a1}{s|+/+}", color: RED }, { label: "{i|Nr4a1}{s|−/−}", color: BLUE }], 12, 10);

  /* ======== j, k, n, o ======== */
  const trio = (a: number[], b: number[], c: number[], ar: number[][], br: number[][], cr: number[][]): Group[] =>
    [{ color: RED, means: a, reps: ar }, { color: BLUE, means: b, reps: br }, { color: LBLUE, means: c, reps: cr }];
  const ko3Legend = [{ label: "{n|WT}", color: RED }, { label: "{i|Nr4a1}{s|−/−}", color: BLUE }, { label: "{i|Nr4a3}{s|−/−}", color: LBLUE }];
  barPanel({ rect: [342, 371, 105, 70], cats: stimCats, max: 12000, step: 4000, fs: 7.5, yName: "Relative Expression", yGap: 25,
    groups: trio(ccl3WT, ccl3Nr4a1, ccl3Nr4a3, ccl3WTReps, ccl3Nr4a1Reps, ccl3Nr4a3Reps), barW: 5, pitch: 6, sig: sigJ });
  barPanel({ rect: [342, 506, 105, 69], cats: stimCats, max: 8000, step: 2000, fs: 7.5, yName: "Relative Expression", yGap: 24,
    groups: trio(ccl4WT, ccl4Nr4a1, ccl4Nr4a3, ccl4WTReps, ccl4Nr4a1Reps, ccl4Nr4a3Reps), barW: 5, pitch: 6, sig: sigK });
  barPanel({ rect: [35, 640, 105, 72], cats: stimCats, max: 10, step: 2, fs: 7.5, yName: "Relative Expression", yGap: 15,
    groups: trio(batfWT, batfNr4a1, batfNr4a3, batfWTReps, batfNr4a1Reps, batfNr4a3Reps), barW: 5, pitch: 6, sig: sigN });
  barPanel({ rect: [190, 640, 104, 71], cats: batfDoseCats, max: 15000, step: 5000, fs: 7.5, yName: "BATF (MFI)", yGap: 28,
    xName: "anti-IgM (μg/mL)", xGap: 11, groups: trio(batfMfiWT, batfMfiNr4a1, batfMfiNr4a3, batfMfiWTReps, batfMfiNr4a1Reps, batfMfiNr4a3Reps), barW: 6, pitch: 7, sig: sigO });
  legend(344, 372, ko3Legend, 12, 10);
  legend(344, 506, ko3Legend, 12, 10);
  legend(39, 644, ko3Legend, 12, 9.5);
  legend(194, 644, ko3Legend, 12, 9.5);
  letter(306, 354, "j");
  letter(307, 491, "k");
  letter(6, 630, "n");
  letter(159, 630, "o");
  txt(400, 352, "Ccl3", { italic: true, size: 8.5 });
  txt(400, 489, "Ccl4", { italic: true, size: 8.5 });
  txt(87, 626, "Batf", { italic: true, size: 8.5 });
  txt(240, 626, "BATF", { size: 9 });

  /* ======== l, m, p, q ======== */
  const cko = (a: number[], b: number[], c: number[], ar: number[][], br: number[][], cr: number[][]): Group[] =>
    [{ color: RED, hollow: true, means: a, reps: ar }, { color: BLUE, hollow: true, means: b, reps: br }, { color: BLACK, hollow: true, means: c, reps: cr }];
  const ckoLegend = [{ label: "{n|MB1-Cre}", color: RED, hollow: true }, { label: "{i|Nr4a1}{n|cKO}", color: BLUE, hollow: true }, { label: "{n|cDKO}", color: BLACK, hollow: true }];
  barPanel({ rect: [504, 371, 105, 71], cats: stimCats, max: 7000, step: 1000, fs: 7.5, yName: "Relative Expression", yGap: 24,
    groups: cko(ccl3Mb1, ccl3CKO, ccl3DKO, ccl3Mb1Reps, ccl3CKOReps, ccl3DKOReps), barW: 5, pitch: 6.5, sig: sigL });
  barPanel({ rect: [504, 506, 105, 69], cats: stimCats, max: 8000, step: 2000, fs: 7.5, yName: "Relative Expression", yGap: 23,
    groups: cko(ccl4Mb1, ccl4CKO, ccl4DKO, ccl4Mb1Reps, ccl4CKOReps, ccl4DKOReps), barW: 5, pitch: 6.5, sig: sigM });
  barPanel({ rect: [340, 640, 108, 72], cats: stimCats, max: 8, step: 2, fs: 7.5, yName: "Relative Expression", yGap: 11,
    groups: cko(batfMb1, batfCKO, batfDKO, batfMb1Reps, batfCKOReps, batfDKOReps), barW: 5, pitch: 6.5, sig: sigP });
  barPanel({ rect: [503, 640, 110, 72], cats: batfDoseCats, max: 14000, step: 3500, fs: 7.5, yName: "BATF (MFI)", yGap: 28,
    xName: "Anti-IgM (μg/ml)", xGap: 10, groups: cko(batfMfiMb1, batfMfiCKO, batfMfiDKO, batfMfiMb1Reps, batfMfiCKOReps, batfMfiDKOReps), barW: 6, pitch: 7, sig: sigQ });
  legend(507, 364, ckoLegend, 12, 10);
  legend(507, 500, ckoLegend, 12, 10);
  legend(345, 645, ckoLegend, 12, 9.5);
  legend(508, 645, ckoLegend, 12, 9.5);
  letter(469, 352, "l");
  letter(473, 491, "m");
  letter(306, 630, "p");
  letter(473, 630, "q");
  txt(559, 354, "Ccl3", { italic: true, size: 8.5 });
  txt(559, 489, "Ccl4", { italic: true, size: 8.5 });
  txt(385, 626, "Batf", { italic: true, size: 8.5 });
  txt(563, 626, "BATF", { size: 9 });

  const timeNote = (x1: number, x2: number, yl: number) => {
    line(x1, yl, x2, yl, 0.9);
    txt((x1 + x2) / 2, yl + 7, "Time (h)", { size: 8 });
    txt((x1 + x2) / 2, yl + 17, "+ anti-IgM", { size: 8 });
  };
  timeNote(387, 447, 457);
  timeNote(387, 447, 588);
  timeNote(549, 609, 457);
  timeNote(549, 609, 588);
  timeNote(80, 140, 726);
  timeNote(386, 448, 725);

  return { animation: false, backgroundColor: "#fff", textStyle: { fontFamily: FONT }, grid, xAxis, yAxis, series, graphic };
}

export default function App() {
  const ref = useRef<HTMLDivElement>(null);
  useEffect(() => {
    const chart = echarts.init(ref.current!, null, { renderer: "svg" });
    chart.setOption(buildOption() as any);
    return () => chart.dispose();
  }, []);
  return <div ref={ref} style={{ position: "absolute", left: 0, top: 0, width: 615, height: 750, background: "#fff" }} />;
}
